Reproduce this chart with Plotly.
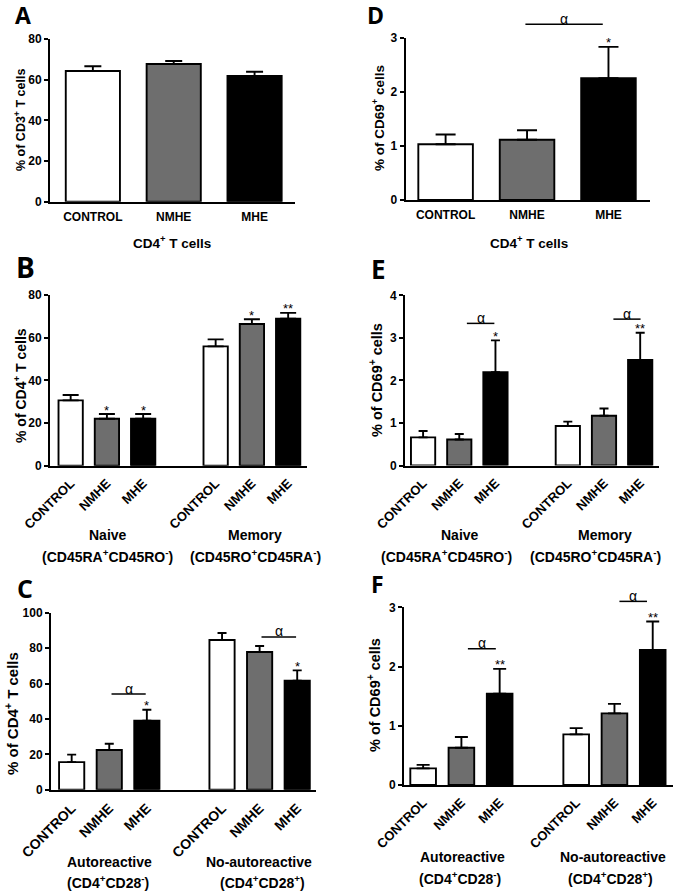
import plotly.graph_objects as go

W, H = 675, 892

# ---------------- data ----------------
categories = ["CONTROL", "NMHE", "MHE"]
bar_colors = ["white", "#6e6e6e", "black"]

# Panel A: % of CD3+ T cells (CD4+ T cells)
A_mean = [64.3, 67.7, 61.8]
A_sem = [2.3, 1.5, 2.1]
A_stars = ["", "", ""]
A_alpha = []

# Panel D: % of CD69+ cells (CD4+ T cells)
D_mean = [1.03, 1.115, 2.25]
D_sem = [0.18, 0.175, 0.58]
D_stars = ["", "", "*"]
D_alpha = [(0.98, 1.93, 3.25)]

# Panel B: % of CD4+ T cells, Naive / Memory
B_groups = ["Naive", "Memory"]
B_subs = ["(CD45RA<sup>+</sup>CD45RO<sup>-</sup>)", "(CD45RO<sup>+</sup>CD45RA<sup>-</sup>)"]
B_mean = [30.6, 22.0, 22.0, 55.9, 66.4, 68.9]
B_sem = [2.5, 2.2, 2.2, 3.3, 2.2, 2.7]
B_stars = ["", "*", "*", "", "*", "**"]
B_alpha = []

# Panel E: % of CD69+ cells, Naive / Memory
E_mean = [0.66, 0.61, 2.19, 0.93, 1.17, 2.48]
E_sem = [0.15, 0.13, 0.75, 0.10, 0.17, 0.64]
E_stars = ["", "", "*", "", "", "**"]
E_alpha = [(1.21, 1.97, 3.34), (5.26, 6.01, 3.44)]

# Panel C: % of CD4+ T cells, Autoreactive / No-autoreactive
C_groups = ["Autoreactive", "No-autoreactive"]
C_subs = ["(CD4<sup>+</sup>CD28<sup>-</sup>)", "(CD4<sup>+</sup>CD28<sup>+</sup>)"]
C_mean = [15.6, 22.4, 39.0, 84.6, 77.8, 61.6]
C_sem = [4.2, 3.6, 6.2, 3.9, 3.4, 5.8]
C_stars = ["", "", "*", "", "", "*"]
C_alpha = [(1.06, 1.97, 54.0), (5.05, 5.97, 86.3)]

# Panel F: % of CD69+ cells, Autoreactive / No-autoreactive
F_mean = [0.28, 0.63, 1.54, 0.855, 1.21, 2.28]
F_sem = [0.06, 0.18, 0.42, 0.105, 0.16, 0.48]
F_stars = ["", "", "**", "", "", "**"]
F_alpha = [(1.17, 1.90, 2.30), (5.13, 5.85, 3.10)]

top_group = ["CD4<sup>+</sup> T cells"]
top_subs = [""]

# ---------------- layout helpers ----------------
def px_x(p):
    return p / W

def px_y(p):
    return 1 - p / H

FONT = "Liberation Sans"
LETTER_FONT = "Open Sans"

panels = [
    dict(letter="A", lpos=(23, 15, 23), mean=A_mean, sem=A_sem, stars=A_stars, alpha=A_alpha,
         groups=top_group, subs=top_subs, gfs=13.5,
         gpos=[(171.5, 242)], spos=[None],
         xpx=(50, 295), ypx=(201.7, 39), xr=(-0.53, 2.5), yr=(0, 80), dtick=20,
         ytitle="% of CD3<sup>+</sup> T cells", tfs=12.5, tpos=(20, 120),
         angle=0, xfs=12, cap=8.5),
    dict(letter="D", lpos=(375, 15, 23), mean=D_mean, sem=D_sem, stars=D_stars, alpha=D_alpha,
         groups=top_group, subs=top_subs, gfs=13.5,
         gpos=[(529, 242)], spos=[None],
         xpx=(405.7, 650), ypx=(200, 37.7), xr=(-0.49, 2.51), yr=(0, 3), dtick=1,
         ytitle="% of CD69<sup>+</sup> cells", tfs=13.5, tpos=(378, 118),
         angle=0, xfs=12, cap=10),
    dict(letter="B", lpos=(25, 267, 28), mean=B_mean, sem=B_sem, stars=B_stars, alpha=B_alpha,
         groups=B_groups, subs=B_subs, gfs=14,
         gpos=[(108, 535), (255, 535)], spos=[(107.5, 556), (255, 556)],
         xpx=(50, 307), ypx=(465.7, 295), xr=(-0.57, 6.52), yr=(0, 80), dtick=20,
         ytitle="% of CD4<sup>+</sup> T cells", tfs=14, tpos=(20, 386),
         angle=-45, xfs=13, cap=8),
    dict(letter="E", lpos=(378, 269, 26), mean=E_mean, sem=E_sem, stars=E_stars, alpha=E_alpha,
         groups=B_groups, subs=B_subs, gfs=14,
         gpos=[(460, 535), (605, 535)], spos=[(446, 556), (595, 556)],
         xpx=(405, 659), ypx=(465.5, 295.3), xr=(-0.5, 6.52), yr=(0, 4), dtick=1,
         ytitle="% of CD69<sup>+</sup> cells", tfs=14.5, tpos=(376, 380),
         angle=-45, xfs=13, cap=4.5),
    dict(letter="C", lpos=(25, 588, 25), mean=C_mean, sem=C_sem, stars=C_stars, alpha=C_alpha,
         groups=C_groups, subs=C_subs, gfs=14,
         gpos=[(109, 861.7), (259, 861.7)], spos=[(108, 881.7), (262, 881.7)],
         xpx=(51, 316), ypx=(789.7, 612.7), xr=(-0.55, 6.5), yr=(0, 100), dtick=20,
         ytitle="% of CD4<sup>+</sup> T cells", tfs=15, tpos=(11, 714),
         angle=-45, xfs=14, cap=4.5),
    dict(letter="F", lpos=(377, 584, 23), mean=F_mean, sem=F_sem, stars=F_stars, alpha=F_alpha,
         groups=C_groups, subs=C_subs, gfs=14,
         gpos=[(462, 856.7), (613, 856.7)], spos=[(460.5, 877.5), (610, 877.5)],
         xpx=(404, 673), ypx=(785, 607.3), xr=(-0.5, 6.53), yr=(0, 3), dtick=1,
         ytitle="% of CD69<sup>+</sup> cells", tfs=14.5, tpos=(374, 695),
         angle=-45, xfs=13, cap=6.5),
]

fig = go.Figure()
layout = dict(
    width=W, height=H,
    margin=dict(l=0, r=0, t=0, b=0, autoexpand=False),
    paper_bgcolor="white", plot_bgcolor="white",
    showlegend=False,
    font=dict(family=FONT, color="black"),
)
annotations = []
shapes = []

for i, p in enumerate(panels, start=1):
    n = len(p["mean"])
    pos = [0, 1, 2] if n == 3 else [0, 1, 2, 4, 5, 6]
    labels = categories if n == 3 else categories * 2
    colors = bar_colors if n == 3 else bar_colors * 2
    xa = "x" if i == 1 else f"x{i}"
    ya = "y" if i == 1 else f"y{i}"
    fig.add_trace(go.Bar(
        x=pos, y=p["mean"], width=0.67,
        marker=dict(color=colors, line=dict(color="black", width=1.9)),
        error_y=dict(type="data", array=p["sem"], arrayminus=[0] * n, symmetric=False,
                     color="black", thickness=1.9, width=p["cap"]),
        xaxis=xa, yaxis=ya, hoverinfo="skip", cliponaxis=False,
    ))
    xk = "xaxis" if i == 1 else f"xaxis{i}"
    yk = "yaxis" if i == 1 else f"yaxis{i}"
    layout[xk] = dict(
        domain=[px_x(p["xpx"][0]), px_x(p["xpx"][1])], anchor=ya,
        range=list(p["xr"]), showline=True, linecolor="black", linewidth=2,
        ticks="", tickvals=pos, ticktext=labels, tickangle=p["angle"],
        tickfont=dict(family=FONT, size=p["xfs"], weight="bold", color="black"),
        ticklabelstandoff=3, showgrid=False, zeroline=False, fixedrange=True,
        automargin=False,
    )
    layout[yk] = dict(
        domain=[px_y(p["ypx"][0]), px_y(p["ypx"][1])], anchor=xa,
        range=list(p["yr"]), dtick=p["dtick"], tick0=0,
        showline=True, linecolor="black", linewidth=2,
        ticks="outside", ticklen=4, tickwidth=2, tickcolor="black",
        tickfont=dict(family=FONT, size=12, weight="bold", color="black"),
        showgrid=False, zeroline=False, fixedrange=True, automargin=False,
    )
    ytop = p["yr"][1]
    # y-axis title
    tx, ty = p["tpos"]
    annotations.append(dict(
        x=px_x(tx), y=px_y(ty), xref="paper", yref="paper", text=p["ytitle"],
        textangle=-90, showarrow=False, xanchor="center", yanchor="middle",
        font=dict(family=FONT, size=p["tfs"], weight="bold", color="black"),
    ))
    # stars
    for j, s in enumerate(p["stars"]):
        if s:
            annotations.append(dict(
                x=pos[j], y=(p["mean"][j] + p["sem"][j]) / ytop, xref=xa, yref=f"{ya} domain",
                text=s, showarrow=False, yanchor="middle", yshift=4,
                font=dict(family=FONT, size=13, color="black"),
            ))
    # alpha brackets
    for (x0, x1, yv) in p["alpha"]:
        shapes.append(dict(
            type="line", xref=xa, yref=f"{ya} domain",
            x0=x0, x1=x1, y0=yv / ytop, y1=yv / ytop,
            line=dict(color="black", width=1.5),
        ))
        annotations.append(dict(
            x=(x0 + x1) / 2, y=yv / ytop, xref=xa, yref=f"{ya} domain", text="α",
            showarrow=False, yanchor="middle", yshift=5.5,
            font=dict(family=FONT, size=14, color="black"),
        ))
    # group labels
    for gname, gsub, gp, sp in zip(p["groups"], p["subs"], p["gpos"], p["spos"]):
        annotations.append(dict(
            x=px_x(gp[0]), y=px_y(gp[1]), xref="paper", yref="paper", text=gname,
            showarrow=False, xanchor="center", yanchor="middle",
            font=dict(family=FONT, size=p["gfs"], weight="bold", color="black"),
        ))
        if gsub:
            annotations.append(dict(
                x=px_x(sp[0]), y=px_y(sp[1]), xref="paper", yref="paper", text=gsub,
                showarrow=False, xanchor="center", yanchor="middle",
                font=dict(family=FONT, size=p["gfs"], weight="bold", color="black"),
            ))
    # panel letter
    lx, ly, lfs = p["lpos"]
    annotations.append(dict(
        x=px_x(lx), y=px_y(ly), xref="paper", yref="paper", text=p["letter"],
        showarrow=False, xanchor="center", yanchor="middle",
        font=dict(family=LETTER_FONT, size=lfs, weight="bold", color="black"),
    ))

layout["annotations"] = annotations
layout["shapes"] = shapes
fig.update_layout(**layout)
fig.write_html(
    "out.html",
    config={"displayModeBar": False, "staticPlot": True},
    post_script="document.body.style.margin='0';document.body.style.overflow='hidden';",
)
